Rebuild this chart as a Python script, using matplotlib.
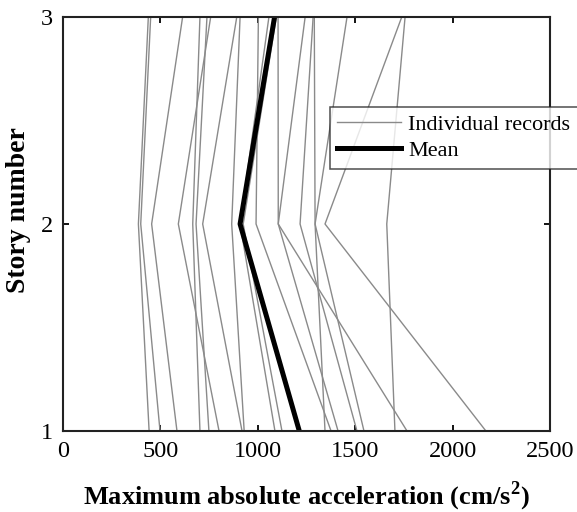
import matplotlib
matplotlib.use("Agg")
import matplotlib.pyplot as plt

plt.rcParams['font.family'] = ['Liberation Serif', 'DejaVu Serif']
plt.rcParams['mathtext.fontset'] = 'custom'
plt.rcParams['mathtext.rm'] = 'Liberation Serif'
plt.rcParams['mathtext.bf'] = 'Liberation Serif:bold'

stories = [1, 2, 3]

# Peak absolute floor acceleration per record (cm/s^2) at stories 1, 2, 3
records = [
    [442, 387, 438],
    [498, 399, 450],
    [585, 455, 614],
    [703, 666, 703],
    [749, 683, 739],
    [801, 592, 758],
    [919, 717, 892],
    [930, 866, 909],
    [1376, 991, 1003],
    [1088, 909, 1057],
    [1124, 925, 1095],
    [1766, 1105, 1104],
    [1412, 1105, 1243],
    [1509, 1217, 1284],
    [1345, 1294, 1290],
    [1545, 1294, 1458],
    [2171, 1345, 1739],
    [1704, 1662, 1756],
]
mean_acc = [1213, 909, 1086]

fig = plt.figure(figsize=(5.77, 5.12), dpi=100)
ax = fig.add_axes([0.1092, 0.1582, 0.844, 0.8086])

for i, rec in enumerate(records):
    ax.plot(rec, stories, color='#8a8a8a', lw=1.0,
            label='Individual records' if i == 0 else None)
ax.plot(mean_acc, stories, color='black', lw=3.6, label='Mean')

ax.set_xlim(0, 2500)
ax.set_ylim(1, 3)
ax.set_xticks([0, 500, 1000, 1500, 2000, 2500])
ax.set_yticks([1, 2, 3])
ax.tick_params(direction='in', length=4, width=1.3, labelsize=17.5,
               top=True, right=True, pad=7)
for s in ax.spines.values():
    s.set_linewidth(1.5)
    s.set_color('#222222')

ax.set_xlabel(r'Maximum absolute acceleration (cm/s$^{\mathbf{2}}$)',
              fontsize=19, fontweight='bold')
ax.xaxis.set_label_coords(0.5, -0.118)
ax.set_ylabel('Story number', fontsize=20, fontweight='bold')
ax.yaxis.set_label_coords(-0.066, 0.534)

leg = ax.legend(loc='upper left', bbox_to_anchor=(0.548, 0.7826),
                fontsize=16, frameon=True, fancybox=False,
                handlelength=2.85, handletextpad=0.35, borderpad=0.33,
                labelspacing=0.26, borderaxespad=0.0)
leg.get_frame().set_edgecolor('#222222')
leg.get_frame().set_linewidth(1.1)
leg.set_zorder(5)

fig.savefig('out.png', dpi=100)
